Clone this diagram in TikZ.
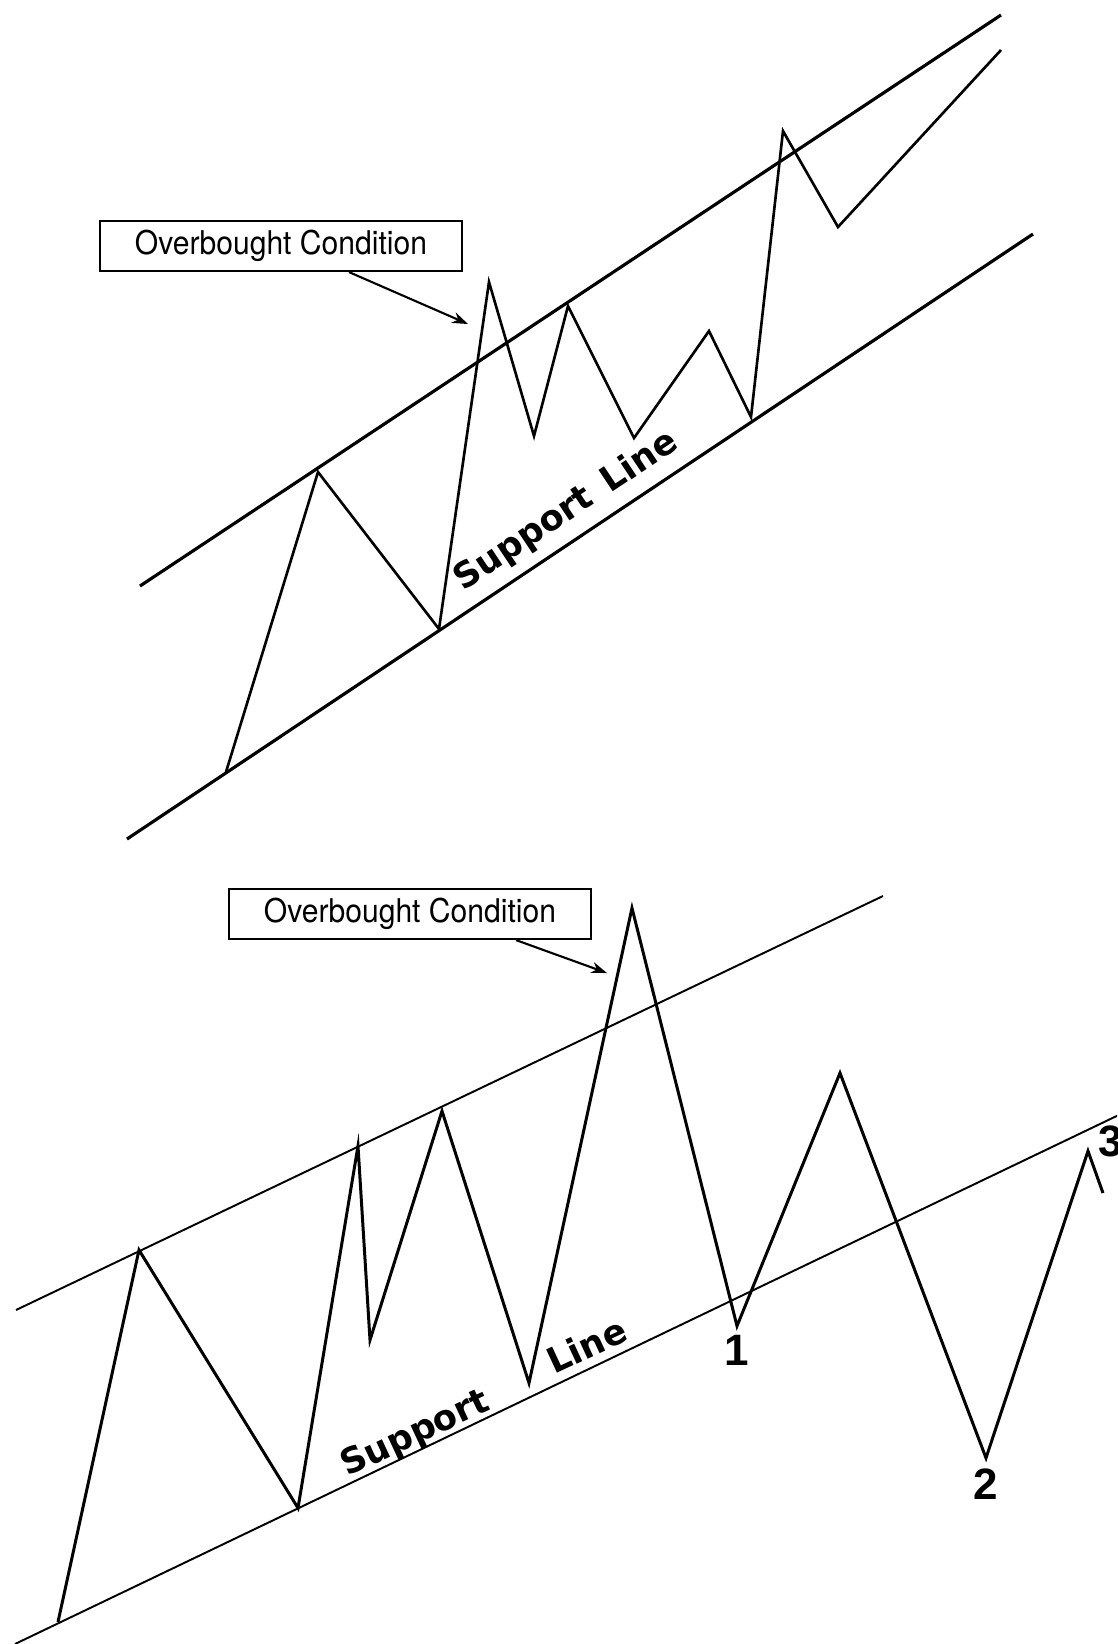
\documentclass[tikz,border=0pt]{standalone}
\usepackage{fontspec}
\setsansfont[FakeStretch=0.92]{TeX Gyre Heros}
\newfontfamily\trendfont{DejaVu Sans}
\newfontfamily\countfont{Liberation Sans}
\usetikzlibrary{positioning,calc,arrows.meta}

\begin{document}
\begin{tikzpicture}[x=0.01cm, y=-0.01cm,
  chanline/.style={line width=0.9pt},
  thinchan/.style={line width=0.55pt},
  zigzag/.style={line width=0.75pt},
  tagbox/.style={draw, line width=0.6pt, fill=white, inner sep=0pt,
    font=\sffamily\fontsize{9.3}{11}\selectfont,
    minimum width=3.62cm, minimum height=0.5cm},
  pointer/.style={line width=0.6pt, -{Stealth[length=4.5pt,width=3.2pt]}},
  trendtag/.style={font=\trendfont\bfseries\fontsize{10}{12}\selectfont, inner sep=0pt},
  countmark/.style={font=\countfont\bfseries\fontsize{12.5}{14}\selectfont, inner sep=0pt}]
\useasboundingbox (0,0) rectangle (1117,1644);
\clip (0,0) rectangle (1117,1644);

% upper channel
\draw[chanline] (140,586) -- (1001,15);
\draw[chanline] (127,839) -- (1033,234);
\draw[zigzag] (226,772) -- (318,472) -- (439,629) -- (489,282) -- (534,436)
  -- (568,306) -- (634,438) -- (709,331) -- (751,417) -- (783,131)
  -- (838,227) -- (1001,50);
\node[tagbox] (obA) at (281,246) {Overbought Condition};
\coordinate (tipA) at (468,324);
\draw[pointer] ($(obA.south)+(68,0)$) -- (tipA);
\node[trendtag, rotate=33.7, anchor=base west] (supA) at (463,592) {Support\hspace{5pt}Line};

% lower channel
\draw[thinchan] (16,1310) -- (883,896);
\draw[thinchan] (15,1644) -- (1125,1112);
\draw[zigzag, line width=0.85pt] (58,1622) -- (139,1250) -- (298,1508) -- (358,1146)
  -- (370,1340) -- (442,1111) -- (529,1383) -- (632,908) -- (737,1326)
  -- (840,1073) -- (986,1458) -- (1088,1151) -- (1103,1193);
\node[tagbox] (obB) at (410,914) {Overbought Condition};
\coordinate (tipB) at (607,973);
\draw[pointer] ($(obB.south)+(106,0)$) -- (tipB);
\node[trendtag, rotate=25, anchor=base west] (supB) at (347,1477) {Support};
\node[trendtag, rotate=25, anchor=base west] (lineB) at (554,1375) {Line};
\node[countmark] (one) at (737,1350) {1};
\node[countmark] (two) at (986,1484) {2};
\node[countmark] (three) at (1111,1141) {3};
\end{tikzpicture}
\end{document}
